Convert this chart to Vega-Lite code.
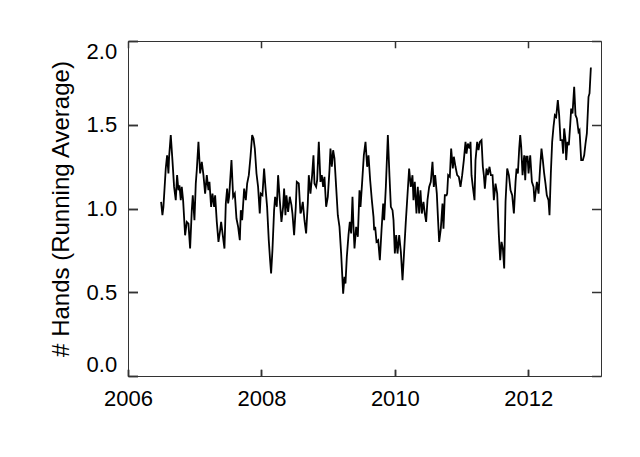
{
  "$schema": "https://vega.github.io/schema/vega-lite/v6.json",
  "width": 473,
  "height": 335,
  "autosize": "none",
  "padding": {"left": 128, "top": 41, "right": 39, "bottom": 81},
  "background": "white",
  "config": {"view": {"stroke": "#333", "strokeWidth": 1}},
  "data": {"values": [
    {"t":2006.496,"v":1.040},{"t":2006.516,"v":0.960},{"t":2006.531,"v":1.010},{"t":2006.566,"v":1.239},{"t":2006.586,"v":1.318},{"t":2006.606,"v":1.209},{"t":2006.616,"v":1.308},{"t":2006.641,"v":1.438},{"t":2006.666,"v":1.289},{"t":2006.691,"v":1.129},{"t":2006.716,"v":1.050},{"t":2006.736,"v":1.199},{"t":2006.756,"v":1.109},{"t":2006.771,"v":1.139},{"t":2006.791,"v":1.050},{"t":2006.806,"v":1.129},{"t":2006.826,"v":1.050},{"t":2006.856,"v":0.840},{"t":2006.881,"v":0.920},{"t":2006.906,"v":0.910},{"t":2006.931,"v":0.761},{"t":2006.956,"v":0.990},{"t":2006.971,"v":1.079},{"t":2006.996,"v":0.930},{"t":2007.016,"v":1.149},{"t":2007.031,"v":1.229},{"t":2007.056,"v":1.398},{"t":2007.081,"v":1.209},{"t":2007.106,"v":1.279},{"t":2007.131,"v":1.199},{"t":2007.156,"v":1.089},{"t":2007.181,"v":1.199},{"t":2007.206,"v":1.109},{"t":2007.221,"v":1.159},{"t":2007.246,"v":1.010},{"t":2007.266,"v":1.089},{"t":2007.291,"v":1.010},{"t":2007.306,"v":1.079},{"t":2007.331,"v":0.920},{"t":2007.356,"v":0.801},{"t":2007.381,"v":0.870},{"t":2007.396,"v":0.920},{"t":2007.421,"v":0.840},{"t":2007.446,"v":0.761},{"t":2007.466,"v":1.030},{"t":2007.486,"v":1.119},
    {"t":2007.501,"v":1.030},{"t":2007.516,"v":1.070},{"t":2007.551,"v":1.289},{"t":2007.576,"v":1.070},{"t":2007.601,"v":1.089},{"t":2007.626,"v":0.940},{"t":2007.651,"v":0.890},{"t":2007.676,"v":0.811},{"t":2007.691,"v":0.990},{"t":2007.711,"v":0.930},{"t":2007.741,"v":1.119},{"t":2007.766,"v":1.050},{"t":2007.786,"v":1.149},{"t":2007.811,"v":1.199},{"t":2007.836,"v":1.309},{"t":2007.861,"v":1.438},{"t":2007.881,"v":1.418},{"t":2007.901,"v":1.358},{"t":2007.926,"v":1.209},{"t":2007.950,"v":1.129},{"t":2007.975,"v":0.970},{"t":2007.990,"v":1.089},
    {"t":2008.015,"v":1.079},{"t":2008.040,"v":1.239},{"t":2008.060,"v":1.129},{"t":2008.085,"v":1.010},{"t":2008.110,"v":0.811},{"t":2008.130,"v":0.691},{"t":2008.145,"v":0.612},{"t":2008.165,"v":0.751},{"t":2008.190,"v":0.990},{"t":2008.205,"v":1.070},{"t":2008.230,"v":1.010},{"t":2008.250,"v":1.199},{"t":2008.275,"v":1.050},{"t":2008.300,"v":0.920},{"t":2008.325,"v":1.010},{"t":2008.340,"v":1.119},{"t":2008.360,"v":0.960},{"t":2008.375,"v":1.079},{"t":2008.400,"v":0.980},{"t":2008.425,"v":1.070},{"t":2008.450,"v":1.020},{"t":2008.465,"v":0.970},{"t":2008.490,"v":0.841},{"t":2008.515,"v":1.010},{"t":2008.530,"v":1.159},{"t":2008.560,"v":1.149},{"t":2008.585,"v":0.970},
    {"t":2008.595,"v":0.980},{"t":2008.620,"v":1.040},{"t":2008.645,"v":0.930},{"t":2008.670,"v":0.851},{"t":2008.695,"v":1.030},{"t":2008.710,"v":1.199},{"t":2008.735,"v":1.089},{"t":2008.760,"v":1.199},{"t":2008.780,"v":1.318},{"t":2008.795,"v":1.149},{"t":2008.820,"v":1.129},{"t":2008.835,"v":1.169},{"t":2008.860,"v":1.398},{"t":2008.885,"v":1.159},{"t":2008.905,"v":1.199},{"t":2008.925,"v":1.129},{"t":2008.945,"v":1.189},{"t":2008.970,"v":1.010},{"t":2008.995,"v":1.070},
    {"t":2009.020,"v":1.229},{"t":2009.035,"v":1.358},{"t":2009.055,"v":1.249},{"t":2009.075,"v":1.348},{"t":2009.095,"v":1.299},{"t":2009.120,"v":1.129},{"t":2009.145,"v":0.960},{"t":2009.170,"v":0.890},{"t":2009.195,"v":0.731},{"t":2009.215,"v":0.572},{"t":2009.225,"v":0.492},{"t":2009.245,"v":0.592},{"t":2009.260,"v":0.552},{"t":2009.280,"v":0.711},{"t":2009.305,"v":0.841},{"t":2009.325,"v":0.920},{"t":2009.345,"v":0.851},{"t":2009.365,"v":1.070},{"t":2009.380,"v":0.890},{"t":2009.395,"v":0.761},{"t":2009.420,"v":0.890},{"t":2009.445,"v":0.831},{"t":2009.470,"v":1.109},{"t":2009.485,"v":1.010},{"t":2009.510,"v":1.159},{"t":2009.535,"v":1.318},{"t":2009.560,"v":1.398},{"t":2009.585,"v":1.249},{"t":2009.605,"v":1.318},{"t":2009.630,"v":1.169},{"t":2009.655,"v":1.050},{"t":2009.680,"v":0.950},
    {"t":2009.690,"v":0.870},{"t":2009.705,"v":0.890},{"t":2009.725,"v":0.801},{"t":2009.750,"v":0.811},{"t":2009.775,"v":0.691},{"t":2009.800,"v":0.870},{"t":2009.825,"v":1.030},{"t":2009.840,"v":0.930},{"t":2009.865,"v":1.129},{"t":2009.895,"v":1.438},{"t":2009.920,"v":1.189},{"t":2009.940,"v":1.010},{"t":2009.965,"v":0.990},{"t":2009.980,"v":0.930},
    {"t":2010.000,"v":0.731},{"t":2010.020,"v":0.841},{"t":2010.040,"v":0.731},{"t":2010.065,"v":0.841},{"t":2010.090,"v":0.741},{"t":2010.115,"v":0.572},{"t":2010.140,"v":0.751},{"t":2010.164,"v":0.920},{"t":2010.189,"v":1.079},{"t":2010.214,"v":1.239},{"t":2010.239,"v":1.129},{"t":2010.264,"v":1.199},{"t":2010.279,"v":1.050},{"t":2010.299,"v":1.159},{"t":2010.324,"v":0.970},{"t":2010.344,"v":1.129},{"t":2010.364,"v":0.970},{"t":2010.384,"v":1.109},{"t":2010.404,"v":0.970},{"t":2010.429,"v":1.040},{"t":2010.449,"v":0.970},{"t":2010.469,"v":0.920},{"t":2010.489,"v":1.050},{"t":2010.514,"v":1.129},{"t":2010.539,"v":1.159},{"t":2010.564,"v":1.279},{"t":2010.584,"v":1.129},{"t":2010.604,"v":1.199},{"t":2010.629,"v":1.089},{"t":2010.649,"v":0.920},{"t":2010.664,"v":0.801},{"t":2010.689,"v":0.880},{"t":2010.714,"v":1.030},{"t":2010.729,"v":0.880},{"t":2010.749,"v":1.079},{"t":2010.774,"v":1.079},
    {"t":2010.784,"v":1.089},{"t":2010.799,"v":1.199},{"t":2010.824,"v":1.189},{"t":2010.844,"v":1.358},{"t":2010.869,"v":1.239},{"t":2010.884,"v":1.309},{"t":2010.909,"v":1.249},{"t":2010.934,"v":1.199},{"t":2010.959,"v":1.189},{"t":2010.984,"v":1.129},
    {"t":2011.009,"v":1.199},{"t":2011.034,"v":1.289},{"t":2011.059,"v":1.398},{"t":2011.074,"v":1.328},{"t":2011.094,"v":1.388},{"t":2011.119,"v":1.358},{"t":2011.134,"v":1.398},{"t":2011.149,"v":1.199},{"t":2011.169,"v":1.129},{"t":2011.194,"v":1.050},{"t":2011.209,"v":1.289},{"t":2011.234,"v":1.398},{"t":2011.254,"v":1.348},{"t":2011.274,"v":1.398},{"t":2011.299,"v":1.408},{"t":2011.319,"v":1.249},{"t":2011.334,"v":1.199},{"t":2011.349,"v":1.119},{"t":2011.374,"v":1.239},{"t":2011.394,"v":1.199},{"t":2011.419,"v":1.249},{"t":2011.439,"v":1.199},{"t":2011.464,"v":1.199},{"t":2011.484,"v":1.050},{"t":2011.509,"v":1.149},{"t":2011.534,"v":1.089},{"t":2011.559,"v":0.841},{"t":2011.579,"v":0.691},{"t":2011.599,"v":0.801},{"t":2011.619,"v":0.761},{"t":2011.639,"v":0.642},{"t":2011.659,"v":1.040},{"t":2011.684,"v":1.239},{"t":2011.709,"v":1.199},{"t":2011.734,"v":1.109},{"t":2011.759,"v":1.079},{"t":2011.784,"v":0.970},{"t":2011.809,"v":1.159},{"t":2011.824,"v":1.239},{"t":2011.844,"v":1.209},{"t":2011.864,"v":1.358},
    {"t":2011.879,"v":1.438},{"t":2011.894,"v":1.368},{"t":2011.914,"v":1.199},{"t":2011.939,"v":1.318},{"t":2011.954,"v":1.169},{"t":2011.969,"v":1.309},{"t":2011.989,"v":1.309},
    {"t":2012.004,"v":1.209},{"t":2012.029,"v":1.318},{"t":2012.054,"v":1.159},{"t":2012.079,"v":1.129},{"t":2012.094,"v":1.040},{"t":2012.114,"v":1.109},{"t":2012.129,"v":1.159},{"t":2012.154,"v":1.089},{"t":2012.178,"v":1.249},{"t":2012.198,"v":1.358},{"t":2012.218,"v":1.289},{"t":2012.238,"v":1.209},{"t":2012.258,"v":1.149},{"t":2012.278,"v":1.079},{"t":2012.303,"v":1.050},{"t":2012.318,"v":0.960},{"t":2012.338,"v":1.209},{"t":2012.358,"v":1.398},{"t":2012.378,"v":1.488},{"t":2012.398,"v":1.557},{"t":2012.418,"v":1.547},{"t":2012.443,"v":1.647},{"t":2012.463,"v":1.557},{"t":2012.483,"v":1.408},{"t":2012.508,"v":1.408},{"t":2012.523,"v":1.328},{"t":2012.538,"v":1.478},{"t":2012.558,"v":1.408},{"t":2012.568,"v":1.289},{"t":2012.588,"v":1.398},{"t":2012.608,"v":1.378},{"t":2012.628,"v":1.498},{"t":2012.643,"v":1.597},{"t":2012.663,"v":1.567},{"t":2012.688,"v":1.727},{"t":2012.708,"v":1.557},{"t":2012.728,"v":1.538},{"t":2012.753,"v":1.458},{"t":2012.768,"v":1.468},{"t":2012.793,"v":1.289},{"t":2012.818,"v":1.289},{"t":2012.838,"v":1.318},{"t":2012.858,"v":1.388},{"t":2012.878,"v":1.448},{"t":2012.903,"v":1.667},{"t":2012.918,"v":1.687},{"t":2012.938,"v":1.842}
  ]},
  "mark": {"type": "line", "color": "black", "strokeWidth": 1.8},
  "encoding": {
    "x": {"field": "t", "type": "quantitative",
      "scale": {"domain": [2006, 2013.09], "nice": false, "zero": false},
      "axis": {"orient": "bottom", "title": null, "domain": false,
        "values": [2006, 2008, 2010, 2012],
        "tickSize": -6.7, "tickColor": "#333", "tickWidth": 1.5,
        "grid": true, "gridColor": "#333", "gridWidth": 1.5, "gridOpacity": 1, "gridDash": [6.7, 321.6],
        "format": "d",
        "labelFont": "Liberation Sans", "labelFontSize": 22, "labelColor": "black",
        "labelBaseline": "alphabetic", "labelPadding": 35.7, "labelOverlap": false, "labelFlush": false}},
    "y": {"field": "v", "type": "quantitative",
      "scale": {"domain": [0, 2], "nice": false, "zero": false},
      "axis": {"orient": "left", "domain": false,
        "values": [0, 0.5, 1.0, 1.5, 2.0],
        "tickSize": -9.5, "tickColor": "#333", "tickWidth": 1.5,
        "grid": true, "gridColor": "#333", "gridWidth": 1.5, "gridOpacity": 1, "gridDash": [9.5, 454],
        "format": ".1f",
        "labelFont": "Liberation Sans", "labelFontSize": 22, "labelColor": "black",
        "labelPadding": 20.8, "labelOverlap": false, "labelFlush": true,
        "title": "# Hands (Running Average)",
        "titleFont": "Liberation Sans", "titleFontSize": 24, "titleFontWeight": "normal", "titleColor": "black",
        "titleAngle": -90, "titleBaseline": "alphabetic", "titleAlign": "center",
        "titleX": -59.7, "titleY": 167.5}}
  }
}
